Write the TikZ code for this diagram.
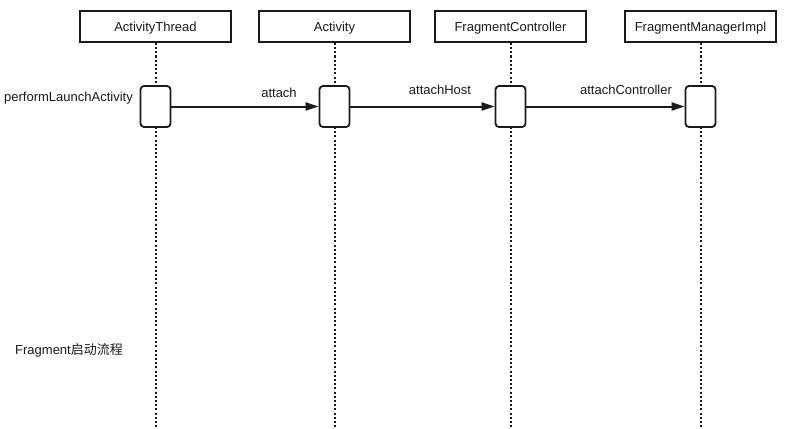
\documentclass[tikz,border=0pt]{standalone}
\usepackage{fontspec}
\setmainfont{Liberation Sans}
\newfontfamily\cjk{Noto Sans CJK SC}
\usepackage{xcolor}
\usepackage{tikz}
\usetikzlibrary{arrows.meta}
\definecolor{bg}{HTML}{FFFFFF}
\definecolor{ink}{HTML}{1A1A1A}
\tikzset{
  head/.style={draw=ink, line width=1.8pt, fill=bg, minimum width=151pt, minimum height=31pt, inner sep=0pt, text height=11pt, text depth=0pt, text=ink, font=\fontsize{13}{15}\selectfont},
  life/.style={draw=ink, line width=2pt, dash pattern=on 2pt off 2.2pt},
  act/.style={draw=ink, line width=1.8pt, fill=bg, rounded corners=3.5pt, minimum width=30pt, minimum height=41pt, inner sep=0pt},
  msg/.style={draw=ink, line width=2pt, -{Triangle[length=13pt,width=8pt]}},
  lab/.style={text=ink, font=\fontsize{13}{15}\selectfont, inner sep=0pt}
}
\begin{document}
\begin{tikzpicture}[x=1pt,y=-1pt]
  \useasboundingbox[fill=bg] (0,0) rectangle (791,428);
  % lifeline heads
  \node[head] (thread) at (155.5,26.5) {ActivityThread};
  \node[head] (activity) at (334.5,26.5) {Activity};
  \node[head] (ctrl) at (510.5,26.5) {FragmentController};
  \node[head] (mgr) at (700.5,26.5) {FragmentManagerImpl};
  \coordinate (thread-end) at (155.5,428);
  \coordinate (activity-end) at (334.5,428);
  \coordinate (ctrl-end) at (510.5,428);
  \coordinate (mgr-end) at (700.5,428);
  \draw[life] (thread.south) -- (thread-end);
  \draw[life] (activity.south) -- (activity-end);
  \draw[life] (ctrl.south) -- (ctrl-end);
  \draw[life] (mgr.south) -- (mgr-end);
  % activations
  \node[act] (thread-a) at (155.5,106.5) {};
  \node[act] (activity-a) at (334.5,106.5) {};
  \node[act] (ctrl-a) at (510.5,106.5) {};
  \node[act] (mgr-a) at (700.5,106.5) {};
  \node[lab, anchor=east] (launch) at (133,98) {performLaunchActivity};
  % calls
  \draw[msg] (thread-a.east) -- (activity-a.west);
  \draw[msg] (activity-a.east) -- (ctrl-a.west);
  \draw[msg] (ctrl-a.east) -- (mgr-a.west);
  \node[lab] (attach) at (279,93) {attach};
  \node[lab] (attachhost) at (440,90) {attachHost};
  \node[lab] (attachctrl) at (626,90) {attachController};
  \node[lab, anchor=west] (title) at (15,350) {Fragment{\cjk 启动流程}};
\end{tikzpicture}
\end{document}
